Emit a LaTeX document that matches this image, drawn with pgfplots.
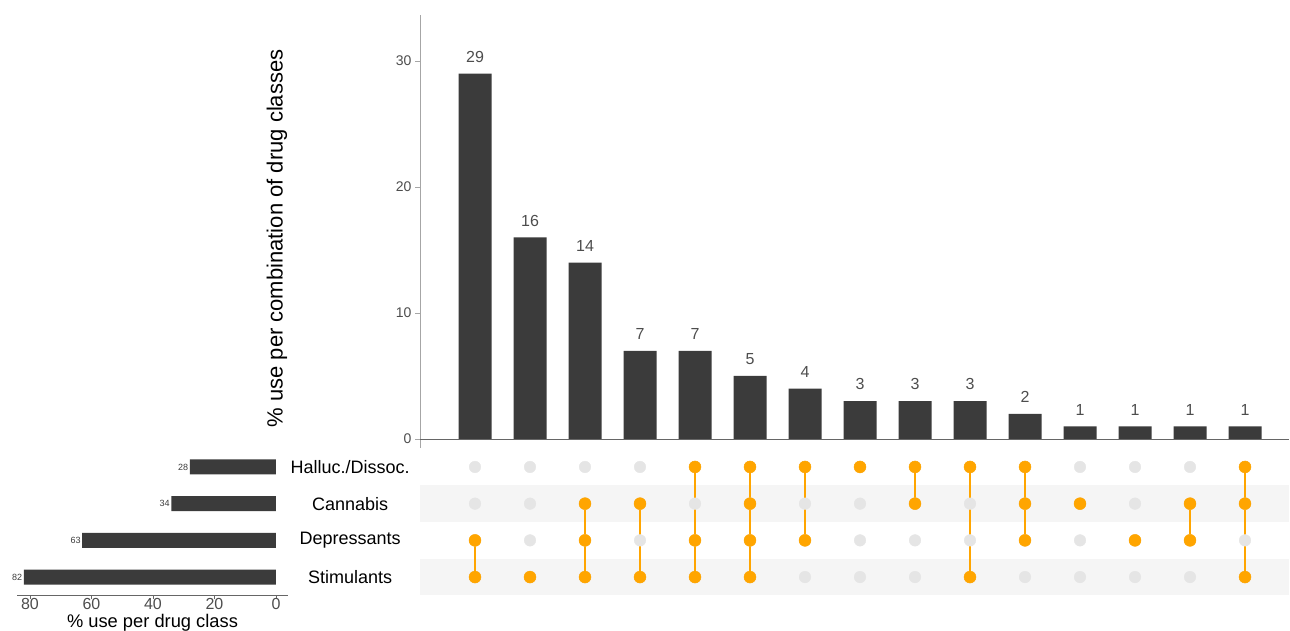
\documentclass[border=0pt]{standalone}
\usepackage{fontspec}
\setmainfont{Liberation Sans}
\usepackage{pgfplots}
\pgfplotsset{compat=1.18}
\definecolor{barc}{HTML}{3B3B3B}
\definecolor{dotor}{HTML}{FFA500}
\definecolor{dotgr}{HTML}{E5E5E5}
\definecolor{band}{HTML}{F5F5F5}
\definecolor{tickc}{HTML}{4D4D4D}
\definecolor{axc}{HTML}{A6A6A6}
\definecolor{axd}{HTML}{666666}
\begin{document}
\begin{tikzpicture}
\path[use as bounding box] (0,0) rectangle (1290pt,630pt);
% ---------------- main bar chart ----------------
\begin{axis}[at={(854.5pt,398.6pt)}, anchor=center,
  x=55pt, y=12.6pt, xmin=-1, xmax=14.8, ymin=-0.7, ymax=33.65,
  axis x line=none, axis y line*=left,
  axis line style={axc, line width=0.8pt},
  ytick={0,10,20,30}, tick align=outside, major tick length=5pt,
  tick style={axc, line width=0.8pt},
  yticklabel style={font=\fontsize{14}{14}\selectfont, text=tickc},
  /pgf/number format/assume math mode=true,
  ybar, bar width=33pt, bar shift=0pt, clip=false,
  nodes near coords,
  nodes near coords style={font=\fontsize{16}{16}\selectfont, text=tickc, inner sep=0pt, anchor=south, yshift=11pt}]
\addplot[fill=barc, draw=none] coordinates {
 (0,29) (1,16) (2,14) (3,7) (4,7) (5,5) (6,4) (7,3) (8,3) (9,3) (10,2) (11,1) (12,1) (13,1) (14,1)};
\draw[axd, line width=0.8pt] (axis cs:-1,0) -- (axis cs:14.8,0);
\end{axis}
% ---------------- matrix ----------------
\begin{axis}[at={(854.5pt,108pt)}, anchor=center,
  x=55pt, y=36.7pt, xmin=-1, xmax=14.8, ymin=-0.5, ymax=3.5,
  hide axis, clip=false]
\fill[band] (axis cs:-1,1.5) rectangle (axis cs:14.8,2.5);
\fill[band] (axis cs:-1,-0.5) rectangle (axis cs:14.8,0.5);
\addplot[color=dotgr, only marks, mark=*, mark size=5.8pt, mark options={draw=none, fill=dotgr}] coordinates {
 (0,0) (0,1) (0,2) (0,3) (1,0) (1,1) (1,2) (1,3) (2,0) (2,1) (2,2) (2,3)
 (3,0) (3,1) (3,2) (3,3) (4,0) (4,1) (4,2) (4,3) (5,0) (5,1) (5,2) (5,3)
 (6,0) (6,1) (6,2) (6,3) (7,0) (7,1) (7,2) (7,3) (8,0) (8,1) (8,2) (8,3)
 (9,0) (9,1) (9,2) (9,3) (10,0) (10,1) (10,2) (10,3) (11,0) (11,1) (11,2) (11,3)
 (12,0) (12,1) (12,2) (12,3) (13,0) (13,1) (13,2) (13,3) (14,0) (14,1) (14,2) (14,3)};
\addplot[color=dotor, line width=2pt, unbounded coords=jump, mark=none] coordinates {
 (0,0) (0,1) (nan,nan)
 (2,0) (2,2) (nan,nan)
 (3,0) (3,2) (nan,nan)
 (4,0) (4,3) (nan,nan)
 (5,0) (5,3) (nan,nan)
 (6,1) (6,3) (nan,nan)
 (8,2) (8,3) (nan,nan)
 (9,0) (9,3) (nan,nan)
 (10,1) (10,3) (nan,nan)
 (13,1) (13,2) (nan,nan)
 (14,0) (14,3)};
\addplot[color=dotor, only marks, mark=*, mark size=6pt, mark options={draw=none, fill=dotor}] coordinates {
 (0,1) (0,0) (1,0) (2,2) (2,1) (2,0) (3,2) (3,0)
 (4,3) (4,1) (4,0) (5,3) (5,2) (5,1) (5,0) (6,3) (6,1)
 (7,3) (8,3) (8,2) (9,3) (9,0) (10,3) (10,2) (10,1)
 (11,2) (12,1) (13,2) (13,1) (14,3) (14,2) (14,0)};
\node[font=\fontsize{18}{18}\selectfont] at (axis cs:-2.27,3) {Halluc./Dissoc.};
\node[font=\fontsize{18}{18}\selectfont] at (axis cs:-2.27,2) {Cannabis};
\node[font=\fontsize{18}{18}\selectfont] at (axis cs:-2.27,1) {Depressants};
\node[font=\fontsize{18}{18}\selectfont] at (axis cs:-2.27,0) {Stimulants};
\end{axis}
% ---------------- set size bars ----------------
\begin{axis}[at={(152.5pt,108pt)}, anchor=center,
  x=3.075pt, y=36.7pt, xmin=-3.9, xmax=84.2, ymin=-0.5, ymax=3.5,
  x dir=reverse, xbar, bar width=15pt, bar shift=0pt,
  axis y line=none, axis x line*=bottom,
  axis line style={axd, line width=0.8pt},
  xtick={0,20,40,60,80}, tick align=outside, major tick length=4pt,
  tick style={axd, line width=0.8pt},
  xticklabel style={font=\fontsize{16}{16}\selectfont, text=tickc, inner sep=0pt, yshift=1pt},
  /pgf/number format/assume math mode=true, clip=false]
\addplot[fill=barc, draw=none, nodes near coords,
  nodes near coords style={font=\fontsize{9}{9}\selectfont, text=barc, anchor=east, inner sep=1.5pt}]
  coordinates {(28,3) (34,2) (63,1) (82,0)};
\end{axis}
% ---------------- titles ----------------
\node[rotate=90, font=\fontsize{22}{22}\selectfont] at (277pt,391.5pt) {\% use per combination of drug classes};
\node[anchor=base, inner sep=0pt, font=\fontsize{18.3}{18.3}\selectfont] at (152.5pt,3pt) {\% use per drug class};
\end{tikzpicture}
\end{document}
